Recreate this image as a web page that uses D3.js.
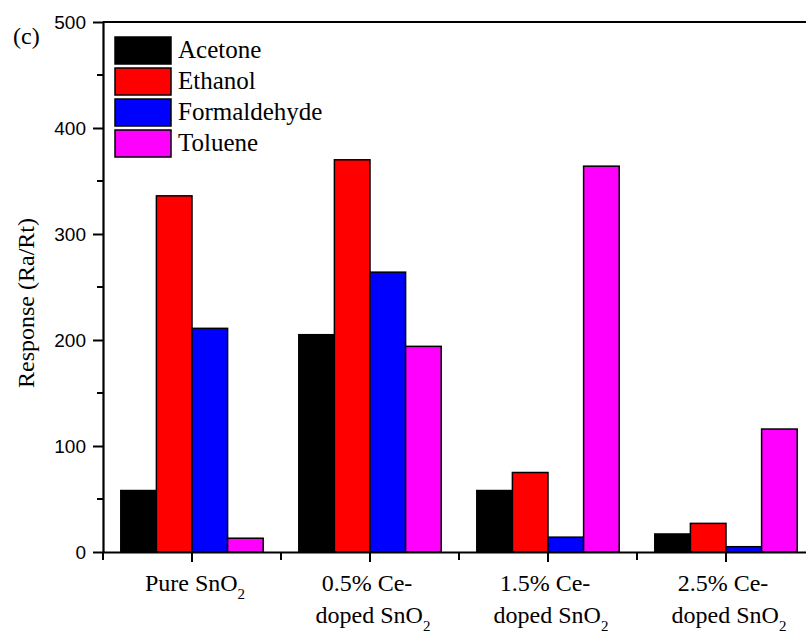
<!DOCTYPE html>
<html>
<head>
<meta charset="utf-8">
<script src="https://cdn.jsdelivr.net/npm/d3@7"></script>
<style>
  body { margin: 0; background: #fff; }
  svg { display: block; }
</style>
</head>
<body>
<div id="chart"></div>
<script>
// data
var groups = ["Pure", "0.5", "1.5", "2.5"];
var gases = ["Acetone", "Ethanol", "Formaldehyde", "Toluene"];
var gasColors = ["#000000", "#ff0000", "#0000ff", "#ff00ff"];
var acetone = [58, 205, 58, 17];
var ethanol = [336, 370, 75, 27];
var formaldehyde = [211, 264, 14, 5];
var toluene = [13, 194, 364, 116];
var yTicks = [0, 100, 200, 300, 400, 500];
var yMinor = [50, 150, 250, 350, 450];

var series = [acetone, ethanol, formaldehyde, toluene];

var width = 806, height = 635;
var margin = { top: 22, left: 103, right: -9, bottom: 83 };
var plotW = width - margin.left - margin.right,
    plotH = height - margin.top - margin.bottom;

var serif = "'Liberation Serif', 'Times New Roman', serif";
var sans = "'Liberation Sans', Arial, sans-serif";

var svg = d3.select("#chart").append("svg")
  .attr("width", width)
  .attr("height", height);

var g = svg.append("g")
  .attr("transform", "translate(" + margin.left + "," + margin.top + ")");

var x0 = d3.scaleBand().domain(groups).range([0, plotW]).paddingInner(0.2).paddingOuter(0.1);
var xTick = d3.scaleBand().domain(groups).range([0, plotW]);
var x1 = d3.scaleBand().domain(gases).range([0, x0.bandwidth()]);
var y = d3.scaleLinear().domain([0, 500]).range([plotH, 0]);
var color = d3.scaleOrdinal().domain(gases).range(gasColors);

// bars
var rows = groups.map(function(grp, i) {
  return gases.map(function(gas, j) { return { group: grp, gas: gas, value: series[j][i] }; });
});

g.selectAll(".grp")
  .data(rows)
  .enter().append("g")
  .attr("class", "grp")
  .attr("transform", function(d, i) { return "translate(" + x0(groups[i]) + ",0)"; })
  .selectAll("rect")
  .data(function(d) { return d; })
  .enter().append("rect")
  .attr("x", function(d) { return x1(d.gas); })
  .attr("y", function(d) { return y(d.value); })
  .attr("width", x1.bandwidth())
  .attr("height", function(d) { return plotH - y(d.value); })
  .attr("fill", function(d) { return color(d.gas); })
  .attr("stroke", "#000")
  .attr("stroke-width", 1.5);

// top frame line
g.append("line")
  .attr("x1", 0).attr("x2", plotW)
  .attr("y1", 0).attr("y2", 0)
  .attr("stroke", "#000").attr("stroke-width", 2.2);

// y axis
var yAxis = g.append("g")
  .call(d3.axisLeft(y).tickValues(yTicks).tickSize(10).tickSizeOuter(0).tickPadding(7));
yAxis.select(".domain").attr("stroke-width", 2.2);
yAxis.selectAll(".tick line").attr("stroke-width", 2);
yAxis.selectAll("text")
  .attr("font-family", sans)
  .attr("font-size", 19)
  .attr("fill", "#000");

g.append("g")
  .selectAll("line")
  .data(yMinor)
  .enter().append("line")
  .attr("x1", -6).attr("x2", 0)
  .attr("y1", function(d) { return y(d); })
  .attr("y2", function(d) { return y(d); })
  .attr("stroke", "#000").attr("stroke-width", 2);

// x axis
var xAxis = g.append("g")
  .attr("transform", "translate(0," + plotH + ")")
  .call(d3.axisBottom(xTick).tickSize(10).tickSizeOuter(0).tickFormat(""));
xAxis.select(".domain").attr("stroke-width", 2.2);
xAxis.selectAll(".tick line").attr("stroke-width", 2);

g.append("g")
  .attr("transform", "translate(0," + plotH + ")")
  .selectAll("line")
  .data(groups)
  .enter().append("line")
  .attr("x1", function(d) { return xTick(d); })
  .attr("x2", function(d) { return xTick(d); })
  .attr("y1", 0).attr("y2", 8)
  .attr("stroke", "#000").attr("stroke-width", 2);

// x labels
var labelLines = {
  "Pure": [["Pure SnO", "2"]],
  "0.5": [["0.5% Ce-", null], ["doped SnO", "2"]],
  "1.5": [["1.5% Ce-", null], ["doped SnO", "2"]],
  "2.5": [["2.5% Ce-", null], ["doped SnO", "2"]]
};

groups.forEach(function(grp) {
  var cx = xTick(grp) + xTick.bandwidth() / 2;
  labelLines[grp].forEach(function(ln, k) {
    var t = g.append("text")
      .attr("x", cx + (ln[1] === null ? -3 : 3))
      .attr("y", plotH + 39 + k * 32)
      .attr("text-anchor", "middle")
      .attr("font-family", serif)
      .attr("font-size", 24)
      .attr("fill", "#000");
    t.append("tspan").text(ln[0]);
    if (ln[1] !== null) {
      t.append("tspan").attr("font-size", 15).attr("dy", 8).text(ln[1]);
    }
  });
});

// y title
svg.append("text")
  .attr("transform", "translate(34,303) rotate(-90)")
  .attr("text-anchor", "middle")
  .attr("font-family", serif)
  .attr("font-size", 24)
  .attr("fill", "#000")
  .text("Response (Ra/Rt)");

// panel label
svg.append("text")
  .attr("x", 13).attr("y", 44)
  .attr("font-family", serif)
  .attr("font-size", 24)
  .attr("fill", "#000")
  .text("(c)");

// legend
var legend = svg.append("g").attr("transform", "translate(115,37)");
var item = legend.selectAll(".item")
  .data(gases)
  .enter().append("g")
  .attr("class", "item")
  .attr("transform", function(d, i) { return "translate(0," + (i * 31) + ")"; });
item.append("rect")
  .attr("width", 56).attr("height", 27)
  .attr("fill", function(d) { return color(d); })
  .attr("stroke", "#000").attr("stroke-width", 1.5);
item.append("text")
  .attr("x", 63).attr("y", 21)
  .attr("font-family", serif)
  .attr("font-size", 25)
  .attr("fill", "#000")
  .text(function(d) { return d; });
</script>
</body>
</html>
